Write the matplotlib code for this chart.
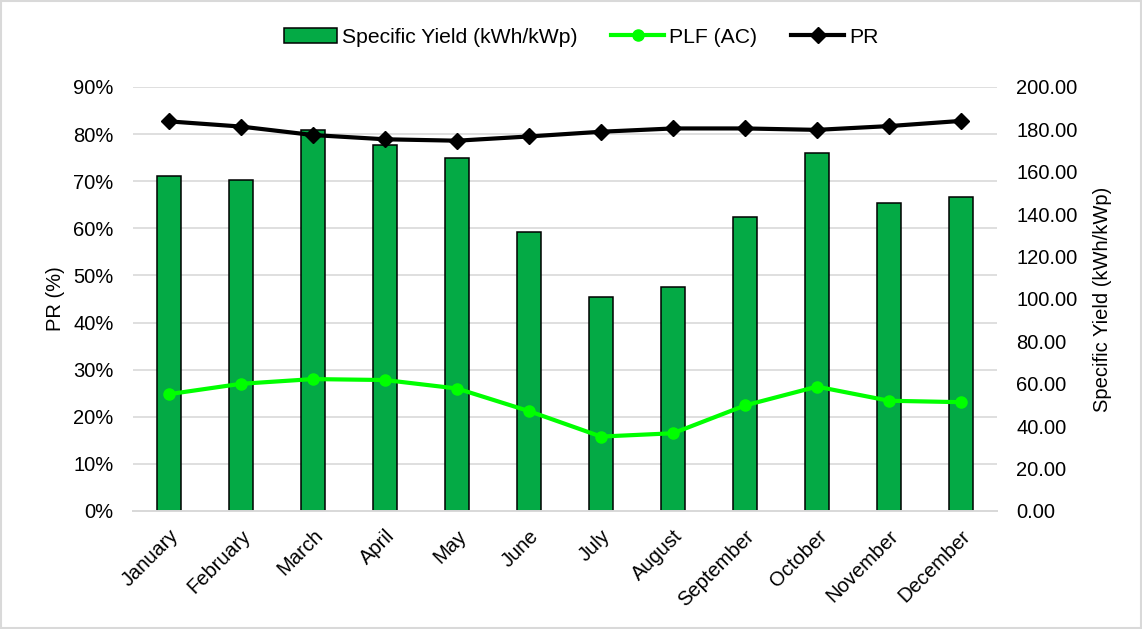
import matplotlib.pyplot as plt
import numpy as np
from matplotlib.patches import Rectangle
from matplotlib.ticker import FuncFormatter

plt.rcParams['font.family'] = ['Liberation Sans', 'DejaVu Sans']

months = ['January', 'February', 'March', 'April', 'May', 'June', 'July',
          'August', 'September', 'October', 'November', 'December']
specific_yield = [158.0, 156.1, 179.7, 172.8, 166.7, 131.5, 100.8, 105.5,
                  138.7, 169.0, 145.4, 148.3]
plf_ac = [24.8, 27.0, 28.0, 27.8, 26.0, 21.2, 15.8, 16.5, 22.4, 26.4, 23.4, 23.1]
pr = [82.7, 81.6, 79.8, 78.9, 78.6, 79.5, 80.5, 81.2, 81.2, 80.9, 81.7, 82.8]

bar_green = '#04AA45'
grid_grey = '#D9D9D9'
fs = 14.5

fig = plt.figure(figsize=(11.42, 6.29), dpi=100)
ax_pct = fig.add_axes([0.1165, 0.1876, 0.7565, 0.6741])
ax_bar = ax_pct.twinx()
ax_line = ax_pct.twinx()

x = np.arange(len(months))

# percent axis: grid + left ticks
ax_pct.set_ylim(0, 90)
ax_pct.set_yticks(np.arange(0, 91, 10))
ax_pct.yaxis.set_major_formatter(FuncFormatter(lambda v, p: f'{v:.0f}%'))
ax_pct.grid(axis='y', color=grid_grey, linewidth=1.2)
ax_pct.set_axisbelow(True)
ax_pct.set_ylabel('PR (%)', fontsize=fs, labelpad=6)

# bars on the right axis
bars = ax_bar.bar(x, specific_yield, width=0.333, color=bar_green,
                  edgecolor='black', linewidth=1.1, label='Specific Yield (kWh/kWp)')
ax_bar.set_ylim(0, 200)
ax_bar.set_yticks(np.arange(0, 201, 20))
ax_bar.yaxis.set_major_formatter(FuncFormatter(lambda v, p: f'{v:.2f}'))
ax_bar.set_ylabel('Specific Yield (kWh/kWp)', fontsize=fs, labelpad=11)

# lines on top
l1, = ax_line.plot(x, plf_ac, color='#00FF00', linewidth=3, marker='o',
                   markersize=8, label='PLF (AC)')
l2, = ax_line.plot(x, pr, color='black', linewidth=3, marker='D',
                   markersize=8.5, label='PR')
ax_line.set_ylim(0, 90)
ax_line.set_yticks([])

for a in (ax_pct, ax_bar, ax_line):
    for s in ('top', 'left', 'right'):
        a.spines[s].set_visible(False)
    a.spines['bottom'].set_color(grid_grey)
    a.spines['bottom'].set_linewidth(1.2)
    a.tick_params(length=0, labelsize=fs)

ax_pct.set_xlim(-0.5, len(months) - 0.5)
ax_pct.set_xticks(x)
ax_pct.set_xticklabels(months, rotation=45, ha='right', va='top',
                       rotation_mode='anchor')
ax_pct.tick_params(axis='x', pad=11)
ax_pct.tick_params(axis='y', pad=14)
ax_bar.tick_params(axis='y', pad=14)

fig.legend(handles=[bars, l1, l2], loc='center', bbox_to_anchor=(0.509, 0.941),
           ncol=3, frameon=False, fontsize=15.2, handlelength=2.5,
           columnspacing=1.6, handletextpad=0.25)

fig.patches.append(Rectangle((0.001, 0.001), 0.998, 0.998, transform=fig.transFigure,
                             fill=False, edgecolor=grid_grey, linewidth=1.5))

fig.savefig('out.png', dpi=100)
